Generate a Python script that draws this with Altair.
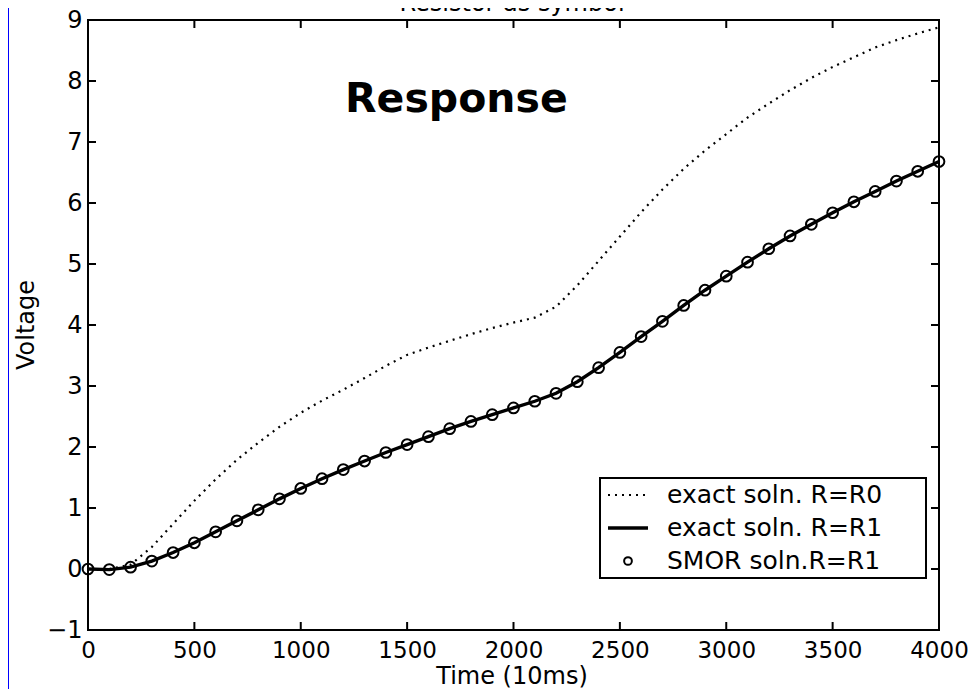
import altair as alt
import pandas as pd

# ---------------- data ----------------
time = [0, 100, 200, 300, 400, 500, 600, 700, 800, 900,
        1000, 1100, 1200, 1300, 1400, 1500, 1600, 1700, 1800, 1900,
        2000, 2100, 2200, 2300, 2400, 2500, 2600, 2700, 2800, 2900,
        3000, 3100, 3200, 3300, 3400, 3500, 3600, 3700, 3800, 3900, 4000]

exact_r0 = [0.0, 0.0, 0.07, 0.36, 0.74, 1.12, 1.47, 1.79, 2.07, 2.33,
            2.56, 2.76, 2.94, 3.13, 3.33, 3.51, 3.63, 3.74, 3.85, 3.95,
            4.04, 4.12, 4.30, 4.65, 5.05, 5.45, 5.85, 6.22, 6.56, 6.86,
            7.13, 7.40, 7.63, 7.85, 8.05, 8.23, 8.39, 8.55, 8.67, 8.78, 8.88]

exact_r1 = [0.0, -0.01, 0.03, 0.13, 0.27, 0.43, 0.61, 0.79, 0.97, 1.15,
            1.32, 1.48, 1.63, 1.77, 1.91, 2.04, 2.17, 2.30, 2.42, 2.53,
            2.64, 2.75, 2.88, 3.07, 3.30, 3.55, 3.81, 4.06, 4.32, 4.57,
            4.80, 5.03, 5.25, 5.46, 5.65, 5.84, 6.02, 6.19, 6.36, 6.52, 6.68]

smor_r1 = [0.0, -0.01, 0.03, 0.13, 0.27, 0.43, 0.61, 0.79, 0.97, 1.15,
           1.32, 1.48, 1.63, 1.77, 1.91, 2.04, 2.17, 2.30, 2.42, 2.53,
           2.64, 2.75, 2.88, 3.07, 3.30, 3.55, 3.81, 4.06, 4.32, 4.57,
           4.80, 5.03, 5.25, 5.46, 5.65, 5.84, 6.02, 6.19, 6.36, 6.52, 6.68]

x_ticks = [0, 500, 1000, 1500, 2000, 2500, 3000, 3500, 4000]
y_ticks = [-1, 0, 1, 2, 3, 4, 5, 6, 7, 8, 9]

legend_labels = ["exact soln. R=R0", "exact soln. R=R1", "SMOR soln.R=R1"]
title_text = "Resistor as symbol"
annotation = "Response"
x_title = "Time (10ms)"
y_title = "Voltage"

# ---------------- layout ----------------
W, H = 851, 610
FONT = "DejaVu Sans"

df = pd.DataFrame({"t": time, "r0": exact_r0, "r1": exact_r1, "smor": smor_r1})
xt = pd.DataFrame({"v": x_ticks})
yt = pd.DataFrame({"v": y_ticks})

xscale = alt.Scale(domain=[0, 4000], nice=False, zero=False)
yscale = alt.Scale(domain=[-1, 9], nice=False, zero=False)

base = alt.Chart(df)

r0_line = base.mark_line(color="black", strokeWidth=2.2, strokeDash=[2, 5], clip=True).encode(
    x=alt.X("t:Q", scale=xscale,
            axis=alt.Axis(values=x_ticks, format="d", ticks=False, domain=False, grid=False,
                          labelFont=FONT, labelFontSize=23, labelColor="black",
                          labelPadding=9, labelOverlap=False, labelFlush=False,
                          title=None)),
    y=alt.Y("r0:Q", scale=yscale,
            axis=alt.Axis(values=y_ticks, format="d", ticks=False, domain=False, grid=False,
                          labelFont=FONT, labelFontSize=24, labelColor="black",
                          labelPadding=6, labelOverlap=False, labelFlush=False,
                          title=None)),
)

r1_line = base.mark_line(color="black", strokeWidth=3.4).encode(
    x=alt.X("t:Q", scale=xscale), y=alt.Y("r1:Q", scale=yscale))

smor_pts = base.mark_point(shape="circle", filled=False, color="black",
                           strokeWidth=2, size=115, opacity=1).encode(
    x=alt.X("t:Q", scale=xscale), y=alt.Y("smor:Q", scale=yscale))

# inward ticks on all four sides (MATLAB box style)
TL = 8
xt_top = alt.Chart(xt).mark_rule(color="black", strokeWidth=2).encode(
    x=alt.X("v:Q", scale=xscale), y=alt.value(0), y2=alt.value(TL))
xt_bot = alt.Chart(xt).mark_rule(color="black", strokeWidth=2).encode(
    x=alt.X("v:Q", scale=xscale), y=alt.value(H - TL), y2=alt.value(H))
yt_left = alt.Chart(yt).mark_rule(color="black", strokeWidth=2).encode(
    y=alt.Y("v:Q", scale=yscale), x=alt.value(0), x2=alt.value(TL))
yt_right = alt.Chart(yt).mark_rule(color="black", strokeWidth=2).encode(
    y=alt.Y("v:Q", scale=yscale), x=alt.value(W - TL), x2=alt.value(W))

# annotation text
resp = alt.Chart(pd.DataFrame({"s": [annotation]})).mark_text(
    font=FONT, fontSize=41, fontWeight="bold", align="left", baseline="alphabetic",
    color="black").encode(text="s:N", x=alt.value(257), y=alt.value(92))

# cut-off title at the very top
ttl = alt.Chart(pd.DataFrame({"s": [title_text]})).mark_text(
    font=FONT, fontSize=24, align="center", baseline="alphabetic",
    color="black").encode(text="s:N", x=alt.value(424), y=alt.value(-9))

# axis titles
xtitle = alt.Chart(pd.DataFrame({"s": [x_title]})).mark_text(
    font=FONT, fontSize=24, align="center", baseline="middle", color="black").encode(
    text="s:N", x=alt.value(424), y=alt.value(657))
ytitle = alt.Chart(pd.DataFrame({"s": [y_title]})).mark_text(
    font=FONT, fontSize=24, align="center", baseline="middle", angle=270,
    color="black").encode(text="s:N", x=alt.value(-61), y=alt.value(305))

# blue strip at the left edge
strip = alt.Chart(pd.DataFrame({"a": [0]})).mark_rect(color="#0000ff").encode(
    x=alt.value(-88), x2=alt.value(-79), y=alt.value(-20), y2=alt.value(H + 75))

# legend box
LX0, LX1, LY0, LY1 = 512, 838, 458, 558
rows = [475, 508, 541]
leg_box = alt.Chart(pd.DataFrame({"a": [0]})).mark_rect(
    fill="white", stroke="black", strokeWidth=2).encode(
    x=alt.value(LX0), x2=alt.value(LX1), y=alt.value(LY0), y2=alt.value(LY1))
leg_r0 = alt.Chart(pd.DataFrame({"a": [0]})).mark_rule(
    color="black", strokeWidth=2.2, strokeDash=[2, 5]).encode(
    x=alt.value(520), x2=alt.value(560), y=alt.value(rows[0]))
leg_r1 = alt.Chart(pd.DataFrame({"a": [0]})).mark_rule(
    color="black", strokeWidth=3.4).encode(
    x=alt.value(520), x2=alt.value(560), y=alt.value(rows[1]))
leg_pt = alt.Chart(pd.DataFrame({"a": [0]})).mark_point(
    shape="circle", filled=False, color="black", strokeWidth=2, size=60, opacity=1).encode(
    x=alt.value(540), y=alt.value(rows[2]))
leg_txt = alt.Chart(pd.DataFrame({"s": legend_labels, "yy": rows})).mark_text(
    font=FONT, fontSize=25, align="left", baseline="middle", color="black").encode(
    text="s:N", x=alt.value(579), y=alt.Y("yy:Q", scale=None))

chart = alt.layer(
    r0_line, r1_line, smor_pts,
    xt_top, xt_bot, yt_left, yt_right,
    resp, ttl, xtitle, ytitle, strip,
    leg_box, leg_r0, leg_r1, leg_pt, leg_txt,
).properties(
    width=W, height=H,
    padding={"left": 80, "top": 12, "right": 29, "bottom": 59},
    autosize=alt.AutoSizeParams(type="none"),
    background="white",
).configure_view(stroke="black", strokeWidth=2)

chart.save("out.html", embed_options={"renderer": "svg", "actions": False})
